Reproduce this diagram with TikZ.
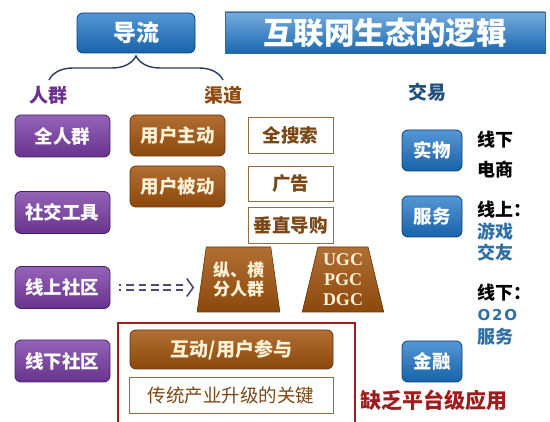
\documentclass[tikz,border=0pt]{standalone}
\usepackage{fontspec}
\setmainfont{Noto Sans CJK SC}
\newfontfamily\latinserif{Liberation Serif}
\newfontfamily\latinsans{DejaVu Sans}
\usetikzlibrary{shapes.geometric,decorations.pathreplacing,arrows.meta}
\definecolor{crowdfill}{HTML}{7A3CA6}
\definecolor{crowdline}{HTML}{4A2168}
\definecolor{brownfill}{HTML}{A4550F}
\definecolor{brownline}{HTML}{6A3306}
\definecolor{bluefill}{HTML}{1C74C6}
\definecolor{blueline}{HTML}{0C3E78}
\definecolor{cream}{HTML}{FFF1D6}
\definecolor{browntext}{HTML}{7A4716}
\definecolor{crowdtext}{HTML}{6B2F90}
\definecolor{channeltext}{HTML}{8C4A0E}
\definecolor{tradetext}{HTML}{1F4E7C}
\definecolor{tealtext}{HTML}{2D70A6}
\definecolor{redline}{HTML}{9E1C1C}
\definecolor{bracecol}{HTML}{2A3A58}
\definecolor{arrowcol}{HTML}{4E4A78}
\begin{document}
\begin{tikzpicture}[x=1pt,y=-1pt,
    crowdbox/.style={draw=crowdline,line width=0.8pt,rounded corners=6pt,top color=crowdfill!80!white,bottom color=crowdfill!85!black,
      minimum width=95pt,minimum height=42pt,text=white,font=\fontsize{18.5}{18.5}\selectfont\bfseries},
    channelbox/.style={draw=brownline,line width=0.8pt,rounded corners=6pt,top color=brownfill!85!white,bottom color=brownfill!85!black,
      text=cream,font=\fontsize{18.5}{18.5}\selectfont\bfseries},
    plainbox/.style={draw=browntext!80,line width=0.9pt,fill=white,minimum width=85pt,
      text=browntext,font=\fontsize{18.5}{18.5}\selectfont\bfseries},
    tradebox/.style={draw=blueline,line width=0.8pt,rounded corners=6pt,top color=bluefill!75!white,bottom color=bluefill!85!black,
      minimum width=60pt,minimum height=41pt,text=white,font=\fontsize{18.5}{18.5}\selectfont\bfseries},
    trapbox/.style={trapezium,trapezium stretches=true,draw=brownline,line width=0.6pt,top color=brownfill!85!white,bottom color=brownfill!85!black,
      minimum width=83pt,minimum height=65pt,text=cream,align=center},
    headlabel/.style={font=\fontsize{19}{19}\selectfont\bfseries},
    sidetext/.style={anchor=west,font=\fontsize{18}{18}\selectfont\bfseries},
  ]
\useasboundingbox (0,0) rectangle (550,422);
% top
\node[tradebox,minimum width=118pt,minimum height=40pt,font=\fontsize{23}{23}\selectfont\bfseries] (daoliu) at (136,33) {导流};
\node[draw=blueline!80,line width=0.6pt,top color=bluefill!60!white,bottom color=bluefill!90!black,minimum width=320pt,minimum height=41pt,
  text=white,font=\fontsize{30.5}{30.5}\selectfont\bfseries] (title) at (385,32.5) {互联网生态的逻辑};
\node[headlabel,text=crowdtext] (renqun) at (49,95) {人群};
\node[headlabel,text=channeltext] (qudao) at (223,95) {渠道};
\node[headlabel,text=tradetext] (jiaoyi) at (427,92) {交易};
\draw[bracecol,line width=1.4pt,decorate,decoration={brace,amplitude=24pt}]
  ([yshift=15pt]renqun.center) -- ([yshift=15pt]qudao.center);
% crowds
\node[crowdbox] (quanren) at (62.5,136) {全人群};
\node[crowdbox] (shejiao) at (62.5,212.5) {社交工具};
\node[crowdbox] (xianshang) at (62.5,287.5) {线上社区};
\node[crowdbox] (xianxia) at (62.5,361) {线下社区};
% channels
\node[channelbox,minimum width=95pt,minimum height=41pt] (zhudong) at (177.5,135.5) {用户主动};
\node[channelbox,minimum width=95pt,minimum height=41pt] (beidong) at (177.5,186.5) {用户被动};
\node[plainbox,minimum height=36pt] (sousuo) at (290.5,135) {全搜索};
\node[plainbox,minimum height=35pt] (guanggao) at (290.5,183.5) {广告};
\node[plainbox,minimum height=36pt] (daogou) at (290.5,225) {垂直导购};
\node[trapbox,trapezium angle=79,font=\fontsize{17}{19}\selectfont\bfseries] (fenren) at (238.5,279.5) {纵、横\\分人群};
\node[trapbox,trapezium angle=76,minimum width=82pt,font=\latinserif\fontsize{18}{20}\selectfont\bfseries] (ugc) at (343,279.5) {UGC\\PGC\\DGC};
\coordinate (arrowend) at (xianshang.east -| fenren.bottom left corner);
\draw[arrowcol,line width=1.7pt,double=white,double distance=3.6pt,dash pattern=on 7.6pt off 4.8pt,dash phase=5.6pt,shorten <=9pt,shorten >=12pt]
  (xianshang.east) -- (arrowend);
\draw[arrowcol,line width=1.6pt,line join=miter] ([xshift=-10pt,yshift=9pt]arrowend) -- ([xshift=-3.5pt]arrowend) -- ([xshift=-10pt,yshift=-9pt]arrowend);
% platform
\draw[redline,line width=1.2pt] (118,426) |- (355,323) -- (355,426);
\node[channelbox,minimum width=203pt,minimum height=39pt,font=\fontsize{19}{19}\selectfont\bfseries] (hudong) at (231.5,349.5) {互动/用户参与};
\node[plainbox,minimum width=204pt,minimum height=36pt,font=\fontsize{18.5}{18.5}\selectfont] (chuantong) at (231,395) {传统产业升级的关键};
\node[text=redline,font=\fontsize{21}{21}\selectfont\bfseries] (quefa) at (434,400) {缺乏平台级应用};
% trade
\node[tradebox] (shiwu) at (432,150.5) {实物};
\node[tradebox] (fuwu) at (432,216.5) {服务};
\node[tradebox] (jinrong) at (432,361.5) {金融};
\node[sidetext] (t1) at (474,140) {线下};
\node[sidetext] (t2) at (474,170) {电商};
\node[sidetext] (t3) at (474,210) {线上：};
\node[sidetext,text=tealtext] (t4) at (474,232) {游戏};
\node[sidetext,text=tealtext] (t5) at (474,253) {交友};
\node[sidetext] (t6) at (474,293) {线下：};
\node[sidetext,text=tealtext,font=\latinsans\fontsize{15}{15}\selectfont\bfseries\addfontfeature{LetterSpace=12}] (t7) at (474,315) {O2O};
\node[sidetext,text=tealtext] (t8) at (474,337) {服务};
\end{tikzpicture}
\end{document}
